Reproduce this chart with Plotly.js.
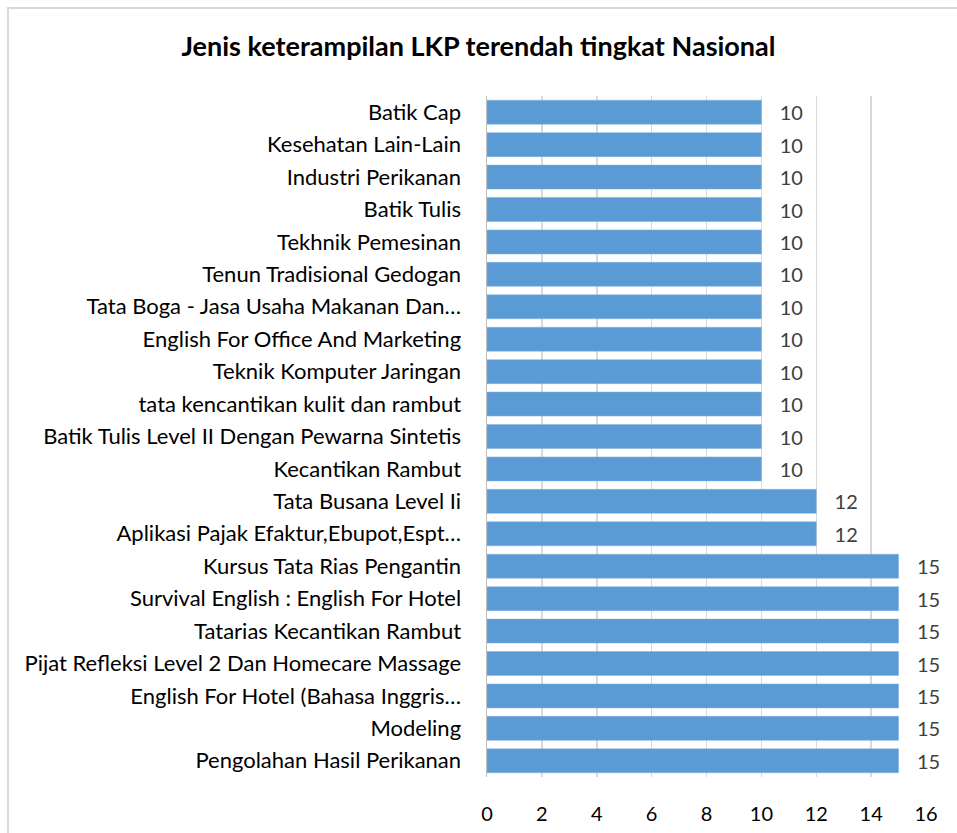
<!DOCTYPE html>
<html>
<head>
<meta charset="utf-8">
<script src="https://cdn.plot.ly/plotly-3.0.1.min.js"></script>
<style>
  html, body { margin: 0; padding: 0; background: #fff; }
  #frame { position: absolute; left: 7px; top: 7px; width: 960px; height: 840px; border-left: 2px solid #d9d9d9; border-top: 2px solid #d9d9d9; pointer-events: none; }
  #chart { width: 957px; height: 833px; }
</style>
</head>
<body>
<div id="chart"></div>
<div id="frame"></div>
<script>
const categories = [
  "Batik Cap",
  "Kesehatan Lain-Lain",
  "Industri Perikanan",
  "Batik Tulis",
  "Tekhnik Pemesinan",
  "Tenun Tradisional Gedogan",
  "Tata Boga - Jasa Usaha Makanan Dan…",
  "English For Office And Marketing",
  "Teknik Komputer Jaringan",
  "tata kencantikan kulit dan rambut",
  "Batik Tulis Level II Dengan Pewarna Sintetis",
  "Kecantikan Rambut",
  "Tata Busana Level Ii",
  "Aplikasi Pajak Efaktur,Ebupot,Espt…",
  "Kursus Tata Rias Pengantin",
  "Survival English : English For Hotel",
  "Tatarias Kecantikan Rambut",
  "Pijat Refleksi Level 2 Dan Homecare Massage",
  "English For Hotel (Bahasa Inggris…",
  "Modeling",
  "Pengolahan Hasil Perikanan"
];
const values = [10,10,10,10,10,10,10,10,10,10,10,10,12,12,15,15,15,15,15,15,15];
const xTicks = [0,2,4,6,8,10,12,14,16];

const FONT = "Lato, 'Open Sans', sans-serif";

const trace = {
  type: "bar",
  orientation: "h",
  y: categories,
  x: values,
  marker: { color: "#5b9bd5", line: { color: "#7fb0de", width: 0.5 } },
  width: 0.74,
  text: values.map(v => String(v)),
  texttemplate: "\u00a0\u00a0\u00a0%{text}",
  textposition: "outside",
  textfont: { family: FONT, size: 20, color: "#404040" },
  cliponaxis: false,
  hoverinfo: "none"
};

const layout = {
  width: 957,
  height: 833,
  paper_bgcolor: "#ffffff",
  plot_bgcolor: "#ffffff",
  margin: { l: 487, r: 31, t: 96, b: 56 },
  title: {
    text: "<b>Jenis keterampilan LKP terendah tingkat Nasional</b>",
    font: { family: FONT, size: 27, color: "#000000" },
    x: 0.5, xanchor: "center",
    y: 1 - 47/833, yanchor: "middle"
  },
  xaxis: {
    range: [0, 16],
    tickvals: xTicks,
    ticktext: xTicks.map(String),
    showgrid: true,
    gridcolor: "#d9d9d9",
    gridwidth: 1.5,
    zeroline: false,
    showline: false,
    ticks: "outside",
    ticklen: 19,
    tickcolor: "rgba(0,0,0,0)",
    tickfont: { family: FONT, size: 20, color: "#000000" },
    fixedrange: true
  },
  yaxis: {
    type: "category",
    autorange: "reversed",
    showgrid: false,
    zeroline: false,
    showline: true,
    linecolor: "#bfbfbf",
    linewidth: 1.5,
    ticks: "outside",
    ticklen: 20,
    tickcolor: "rgba(0,0,0,0)",
    tickfont: { family: FONT, size: 22, color: "#000000" },
    fixedrange: true
  },
  bargap: 0.26,
  showlegend: false
};

Plotly.newPlot("chart", [trace], layout, { displayModeBar: false, staticPlot: true });
</script>
</body>
</html>
